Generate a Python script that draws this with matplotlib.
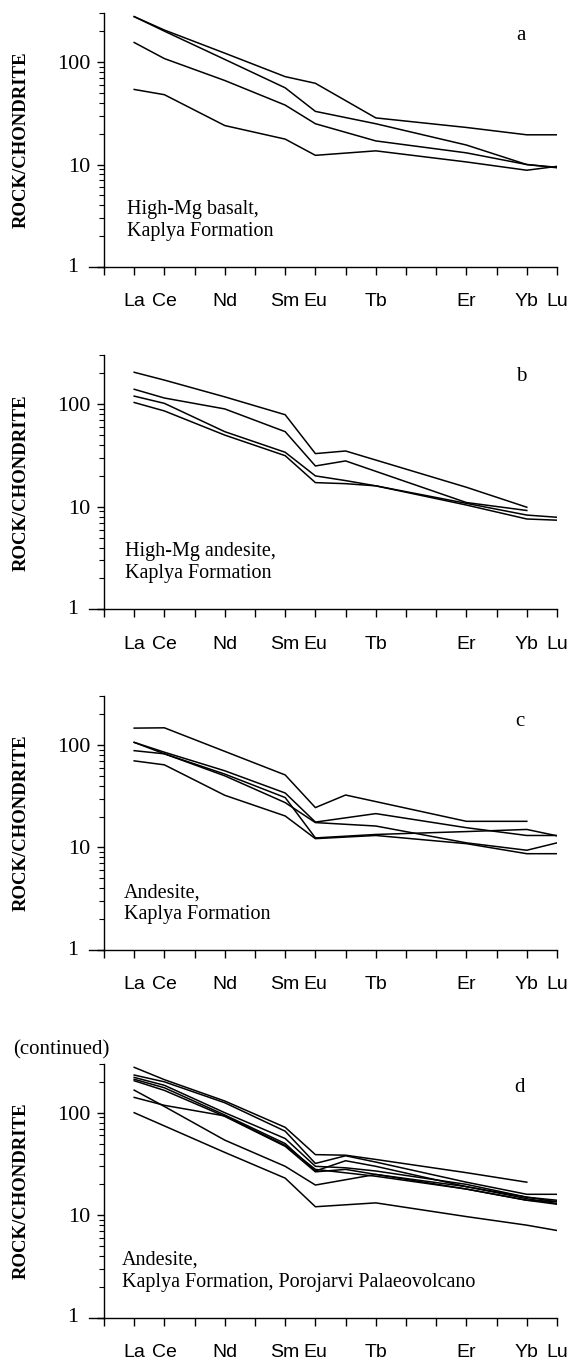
import numpy as np
import matplotlib.pyplot as plt
import matplotlib.transforms as mtransforms
from matplotlib.ticker import LogLocator, NullFormatter

nan = np.nan

# -------------------------
# REE axis
# -------------------------
ree = ['La', 'Ce', 'Pr', 'Nd', 'Pm', 'Sm', 'Eu', 'Gd', 'Tb', 'Dy', 'Ho', 'Er', 'Tm', 'Yb', 'Lu']
shown = ['La', 'Ce', 'Nd', 'Sm', 'Eu', 'Tb', 'Er', 'Yb', 'Lu']
measured = ['La', 'Ce', 'Nd', 'Sm', 'Eu', 'Gd', 'Tb', 'Er', 'Yb', 'Lu']

# -------------------------
# Chondrite-normalised values (columns follow `measured`)
# -------------------------
# a: high-Mg basalt
basalt = [
    [277, 205, 122, 72, 62, nan, 28.5, 23, 19.5, 19.5],
    [277, 200, 106, 56, 33, nan, 25, 15.5, 10.0, 9.3],
    [155, 108, 66, 38, 25, nan, 17, 13, 10.0, 9.4],
    [54, 48, 24, 17.7, 12.3, nan, 13.6, 10.6, 8.8, 9.6],
]
# b: high-Mg andesite
hmg_andesite = [
    [205, 172, 118, 79, 33, 35, nan, 15.5, 9.9, nan],
    [140, 115, 90, 54, 25, 28, nan, 11, 9.2, nan],
    [120, 102, 54, 34, 20, 18, 16, 10.8, 8.3, 7.9],
    [104, 86, 50, 31.5, 17.2, 16.8, 16, 10.4, 7.6, 7.4],
]
# c: andesite
andesite = [
    [146, 147, nan, 51, 24.5, 32.5, nan, 18, 18, nan],
    [106, 85, 56, 34, 17.7, nan, 21.4, 15.6, 13.1, 13.1],
    [106, 82, 52, 30.7, 12.4, nan, 13.4, 14.3, 15, 13],
    [88, 82, 50, 27.4, 17.5, nan, 16.2, 11.1, 9.4, 11.1],
    [70, 64, 32.3, 20.3, 12.2, nan, 13.1, 10.9, 8.7, 8.7],
]
# d: andesite, Porojarvi palaeovolcano
porojarvi = [
    [277, 210, 130, 72, 39, 38.5, 35, 26, 21, nan],
    [233, 200, 125, 66, 32, 38, 33, 21, 16, 16],
    [221, 185, 100, 56, 30, 29, 27, 20, 15, 14],
    [212, 175, 95, 50, 27, 34, 30, 19, 14.5, 13],
    [205, 165, 92, 47, 26.5, 28, 25, 18, 14, 12.8],
    [166, 115, 54, 30, 19.7, nan, 25, 19, 15, 13.5],
    [141, 118, 93, 48, 28, nan, 24, 18, 14, 13.6],
    [100, nan, 41, 23, 12.1, nan, 13.2, 9.7, 8, 7.1],
]

panels = [basalt, hmg_andesite, andesite, porojarvi]
letters = ['a', 'b', 'c', 'd']
notes = ['High-Mg basalt,\nKaplya Formation',
         'High-Mg andesite,\nKaplya Formation',
         'Andesite,\nKaplya Formation',
         'Andesite,\nKaplya Formation, Porojarvi Palaeovolcano']

serif = 'Liberation Serif'
sans = 'Liberation Sans'

fig = plt.figure(figsize=(5.79, 13.64), dpi=100)

bottoms = [0.8042, 0.5533, 0.3035, 0.0339]
letter_pos = [(0.92, 0.913), (0.92, 0.915), (0.918, 0.898), (0.918, 0.908)]
note_x = [0.051, 0.046, 0.044, 0.040]

xpos = np.array([ree.index(e) + 1 for e in measured])

for k in range(4):
    ax = fig.add_axes([0.1796, bottoms[k], 0.7824, 0.1862])

    for s in panels[k]:
        y = np.array(s, dtype=float)
        ok = ~np.isnan(y)
        ax.plot(xpos[ok], y[ok], color='black', lw=1.1)

    ax.set_yscale('log')
    ax.set_ylim(1, 300)
    ax.set_xlim(0, 15)

    ax.spines['top'].set_visible(False)
    ax.spines['right'].set_visible(False)
    ax.spines['left'].set_linewidth(1.0)
    ax.spines['bottom'].set_linewidth(1.0)

    # x ticks: every REE slot, labels only for the measured ones
    ax.set_xticks(range(16))
    ax.set_xticklabels([''] + [e if e in shown else '' for e in ree],
                       family=sans, fontsize=14)
    ax.tick_params(axis='x', direction='out', length=6, width=1, pad=13)

    # y ticks
    ax.set_yticks([1, 10, 100])
    ax.set_yticklabels(['', '10', '100'], family=serif, fontsize=16)
    ax.yaxis.set_minor_locator(LogLocator(base=10, subs=range(2, 10)))
    ax.yaxis.set_minor_formatter(NullFormatter())
    ax.tick_params(axis='y', which='major', direction='out', length=5, width=1, pad=5)
    ax.tick_params(axis='y', which='minor', direction='out', length=3.5, width=0.8)

    trans = mtransforms.blended_transform_factory(ax.transAxes, ax.transData)
    ax.plot([-0.033, 0], [1, 1], color='black', lw=1.0, transform=trans, clip_on=False)
    ax.text(-0.057, 1, '1', transform=trans, ha='right', va='center',
            family=serif, fontsize=16)

    ax.set_ylabel('ROCK/CHONDRITE', family=serif, fontweight='bold', fontsize=13.5)
    ax.yaxis.set_label_coords(-0.163, 0.5)

    ax.text(letter_pos[k][0], letter_pos[k][1], letters[k], transform=ax.transAxes,
            ha='center', va='center', family=serif, fontsize=15)
    ax.text(note_x[k], 0.183, notes[k], transform=ax.transAxes, ha='left',
            va='center', family=serif, fontsize=14.5, linespacing=1.2)

fig.text(0.022, 0.2302, '(continued)', ha='left', va='center', family=serif, fontsize=15)

fig.savefig('out.png', dpi=100)
